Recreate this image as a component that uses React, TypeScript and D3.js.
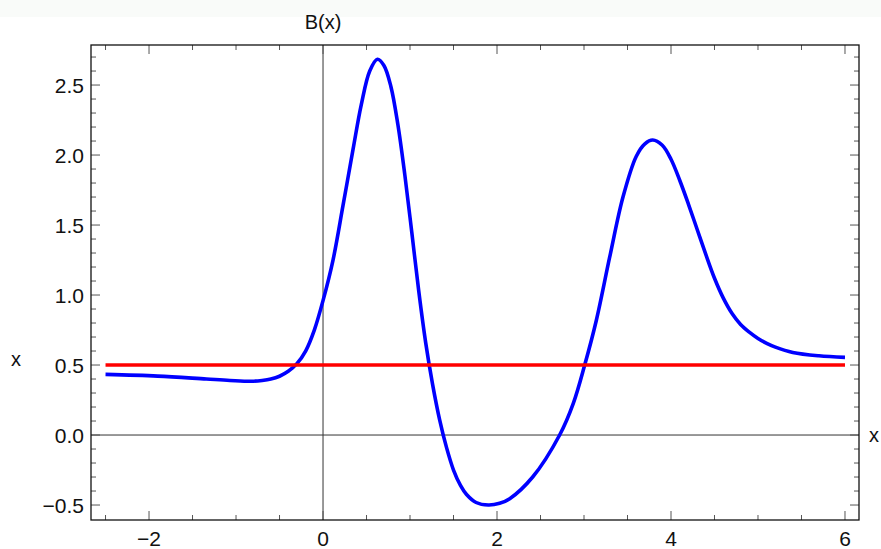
import React from "react";
import * as d3 from "d3";

// Sampled values of B(x)
const curveX = [-2.5, -1.9, -1.34, -1.07, -0.82, -0.7, -0.6, -0.5, -0.4, -0.3, -0.2, -0.1, 0, 0.115, 0.23, 0.345, 0.44, 0.537, 0.625, 0.7, 0.78, 0.86, 0.94, 1.02, 1.1, 1.18, 1.26, 1.34, 1.42, 1.5, 1.58, 1.65, 1.76, 1.9, 2.03, 2.146, 2.41, 2.72, 2.877, 3.008, 3.142, 3.295, 3.448, 3.6, 3.7, 3.79, 3.9, 4.0, 4.1, 4.2, 4.3, 4.4, 4.5, 4.6, 4.7, 4.8, 4.9, 5.0, 5.1, 5.2, 5.4, 5.7, 6.0];
const curveY = [0.433, 0.421, 0.4, 0.39, 0.384, 0.39, 0.4, 0.42, 0.455, 0.51, 0.6, 0.75, 0.96, 1.25, 1.64, 2.04, 2.36, 2.6, 2.684, 2.64, 2.49, 2.22, 1.86, 1.45, 1.03, 0.66, 0.36, 0.11, -0.09, -0.25, -0.36, -0.425, -0.482, -0.5, -0.488, -0.455, -0.3, 0, 0.226, 0.5, 0.82, 1.27, 1.7, 1.99, 2.08, 2.107, 2.07, 1.97, 1.82, 1.65, 1.47, 1.29, 1.12, 0.98, 0.87, 0.79, 0.735, 0.69, 0.655, 0.628, 0.59, 0.566, 0.555];

// Constant reference level
const refLevel = 0.5;
const refRange = [-2.5, 6];

const xTickLabels = [-2, 0, 2, 4, 6];
const yTickLabels = [-0.5, 0, 0.5, 1, 1.5, 2, 2.5];

const W = 881;
const H = 549;
const FONT = "'Liberation Sans', Arial, sans-serif";

export default function App() {
  const left = 91, right = 859, top = 45, bottom = 520;
  const x = d3.scaleLinear().domain([-2.667, 6.161]).range([left, right]);
  const y = d3.scaleLinear().domain([-0.607, 2.786]).range([bottom, top]);

  const pts: [number, number][] = curveX.map((v, i) => [v, curveY[i]]);
  const line = d3
    .line<[number, number]>()
    .x((d) => x(d[0]))
    .y((d) => y(d[1]))
    .curve(d3.curveCatmullRom.alpha(0.5));

  const fmtY = (v: number) => (v < 0 ? "\u2212" : "") + Math.abs(v).toFixed(1);
  const fmtX = (v: number) => (v < 0 ? "\u2212" : "") + Math.abs(v).toString();

  // x ticks every 0.5, major at multiples of 2
  const xTicks = d3.range(-2.5, 6.01, 0.5).map((v) => ({ v, major: Math.abs(v / 2 - Math.round(v / 2)) < 1e-6 }));
  // y ticks every 0.1, major at multiples of 0.5
  const yTicks = d3
    .range(-6, 28)
    .map((k) => ({ v: k / 10, major: k % 5 === 0 }))
    .filter((t) => y(t.v) > top + 2 && y(t.v) < bottom - 2);

  const tickColor = "#555";
  const MAJ = 9, MIN = 5;

  return (
    <div style={{ position: "fixed", left: 0, top: 0, width: W, height: H, background: "#fff" }}>
      <svg width={W} height={H} style={{ display: "block" }}>
        <rect x={0} y={0} width={W} height={17} fill="#f9fbf9" />

        {/* axes through origin */}
        <line x1={x(0)} x2={x(0)} y1={top} y2={bottom} stroke="#333" strokeWidth={1} />
        <line x1={left} x2={right} y1={y(0)} y2={y(0)} stroke="#333" strokeWidth={1} />

        {/* ticks */}
        {xTicks.map((t, i) => {
          const len = t.major ? MAJ : MIN;
          return (
            <g key={"xt" + i} stroke={tickColor} strokeWidth={1}>
              <line x1={x(t.v)} x2={x(t.v)} y1={bottom} y2={bottom - len} />
              <line x1={x(t.v)} x2={x(t.v)} y1={top} y2={top + len} />
            </g>
          );
        })}
        {yTicks.map((t, i) => {
          const len = t.major ? MAJ : MIN;
          return (
            <g key={"yt" + i} stroke={tickColor} strokeWidth={1}>
              <line x1={left} x2={left + len} y1={y(t.v)} y2={y(t.v)} />
              <line x1={right} x2={right - len} y1={y(t.v)} y2={y(t.v)} />
            </g>
          );
        })}

        {/* frame */}
        <rect x={left} y={top} width={right - left} height={bottom - top} fill="none" stroke="#111" strokeWidth={1.3} />

        {/* series */}
        <path d={line(pts) || ""} fill="none" stroke="#0000ff" strokeWidth={3.6} strokeLinejoin="round" strokeLinecap="butt" />
        <line x1={x(refRange[0])} x2={x(refRange[1])} y1={y(refLevel)} y2={y(refLevel)} stroke="#ff0000" strokeWidth={3.4} />

        {/* tick labels */}
        {xTickLabels.map((v) => (
          <text key={"xl" + v} x={x(v)} y={546} textAnchor="middle" fontFamily={FONT} fontSize={21} fill="#111">
            {fmtX(v)}
          </text>
        ))}
        {yTickLabels.map((v) => (
          <text key={"yl" + v} x={84} y={y(v) + 7.5} textAnchor="end" fontFamily={FONT} fontSize={21} fill="#111">
            {fmtY(v)}
          </text>
        ))}

        {/* axis labels */}
        <text x={x(0)} y={29} textAnchor="middle" fontFamily={FONT} fontSize={20} fill="#111">B(x)</text>
        <text x={16} y={366} textAnchor="middle" fontFamily={FONT} fontSize={20} fill="#111">x</text>
        <text x={869} y={442} textAnchor="start" fontFamily={FONT} fontSize={20} fill="#111">x</text>
      </svg>
    </div>
  );
}
